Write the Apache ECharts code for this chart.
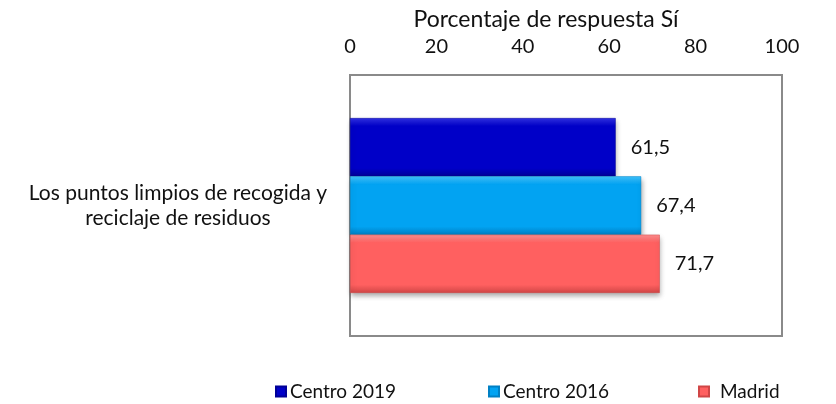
<!DOCTYPE html>
<html>
<head>
<meta charset="utf-8">
<script src="https://cdn.jsdelivr.net/npm/echarts@6/dist/echarts.min.js"></script>
<style>
  html, body { margin: 0; padding: 0; background: #fff; }
  #chart { width: 836px; height: 404px; }
</style>
</head>
<body>
<div id="chart"></div>
<script>
const categories = ['Los puntos limpios de recogida y\nreciclaje de residuos'];
const seriesNames = ['Centro 2019', 'Centro 2016', 'Madrid'];
const centro2019 = [61.5];
const centro2016 = [67.4];
const madrid = [71.7];
const xTicks = [0, 20, 40, 60, 80, 100];

const colors = [
    ['#3030e6', '#0000c8', '#000096'],
    ['#40c4ff', '#02a3f2', '#0080c4'],
    ['#ff9090', '#ff6060', '#d04646']
];

function grad(c) {
    return new echarts.graphic.LinearGradient(0, 0, 0, 1, [
        { offset: 0, color: c[0] },
        { offset: 0.14, color: c[1] },
        { offset: 0.86, color: c[1] },
        { offset: 1, color: c[2] }
    ]);
}

const chart = echarts.init(document.getElementById('chart'));
const font = 'Lato, "Open Sans", sans-serif';

const seriesData = [centro2019, centro2016, madrid];
const legendLeft = [270, 483, 693];
const legendGap = [4, 4, 11];

chart.setOption({
    textStyle: { fontFamily: font },
    grid: {
        left: 350,
        right: 54,
        top: 75,
        bottom: 68,
        outerBoundsMode: 'none',
        show: true,
        borderColor: '#8a8a8a',
        borderWidth: 2,
        backgroundColor: '#fff'
    },
    legend: seriesNames.map((name, i) => ({
        data: [name],
        top: 377,
        left: legendLeft[i],
        itemWidth: 10,
        itemHeight: 10,
        icon: 'rect',
        textStyle: { fontSize: 19, color: '#111', fontFamily: font, padding: [0, 0, 0, legendGap[i] - 5] }
    })),
    xAxis: {
        type: 'value',
        position: 'top',
        min: 0,
        max: 100,
        interval: 20,
        name: 'Porcentaje de respuesta Sí',
        nameLocation: 'middle',
        nameGap: 44,
        nameTextStyle: { fontSize: 23, color: '#111', fontFamily: font, padding: [0, 40, 0, 0] },
        axisLine: { show: false },
        axisTick: { show: false },
        splitLine: { show: false },
        axisLabel: {
            fontSize: 20,
            color: '#111',
            margin: 18,
            fontFamily: font,
            formatter: v => xTicks.includes(v) ? String(v) : ''
        }
    },
    yAxis: {
        type: 'category',
        inverse: true,
        data: categories,
        axisLine: { show: false },
        axisTick: { show: false },
        axisLabel: {
            fontSize: 21,
            color: '#111',
            align: 'center',
            margin: 172,
            lineHeight: 25,
            padding: [13, 0, 0, 0],
            fontFamily: font
        }
    },
    series: seriesNames.map((name, i) => ({
        name: name,
        type: 'bar',
        data: seriesData[i],
        barGap: '0%',
        barCategoryGap: '33%',
        itemStyle: {
            color: grad(colors[i]),
            borderColor: colors[i][2],
            borderWidth: 0.5,
            shadowColor: 'rgba(0,0,0,0.35)',
            shadowBlur: 5,
            shadowOffsetX: 1,
            shadowOffsetY: 3
        },
        label: {
            show: true,
            position: 'right',
            distance: 15,
            fontSize: 20,
            color: '#111',
            fontFamily: font,
            formatter: p => p.value.toFixed(1).replace('.', ',')
        }
    }))
});
</script>
</body>
</html>
